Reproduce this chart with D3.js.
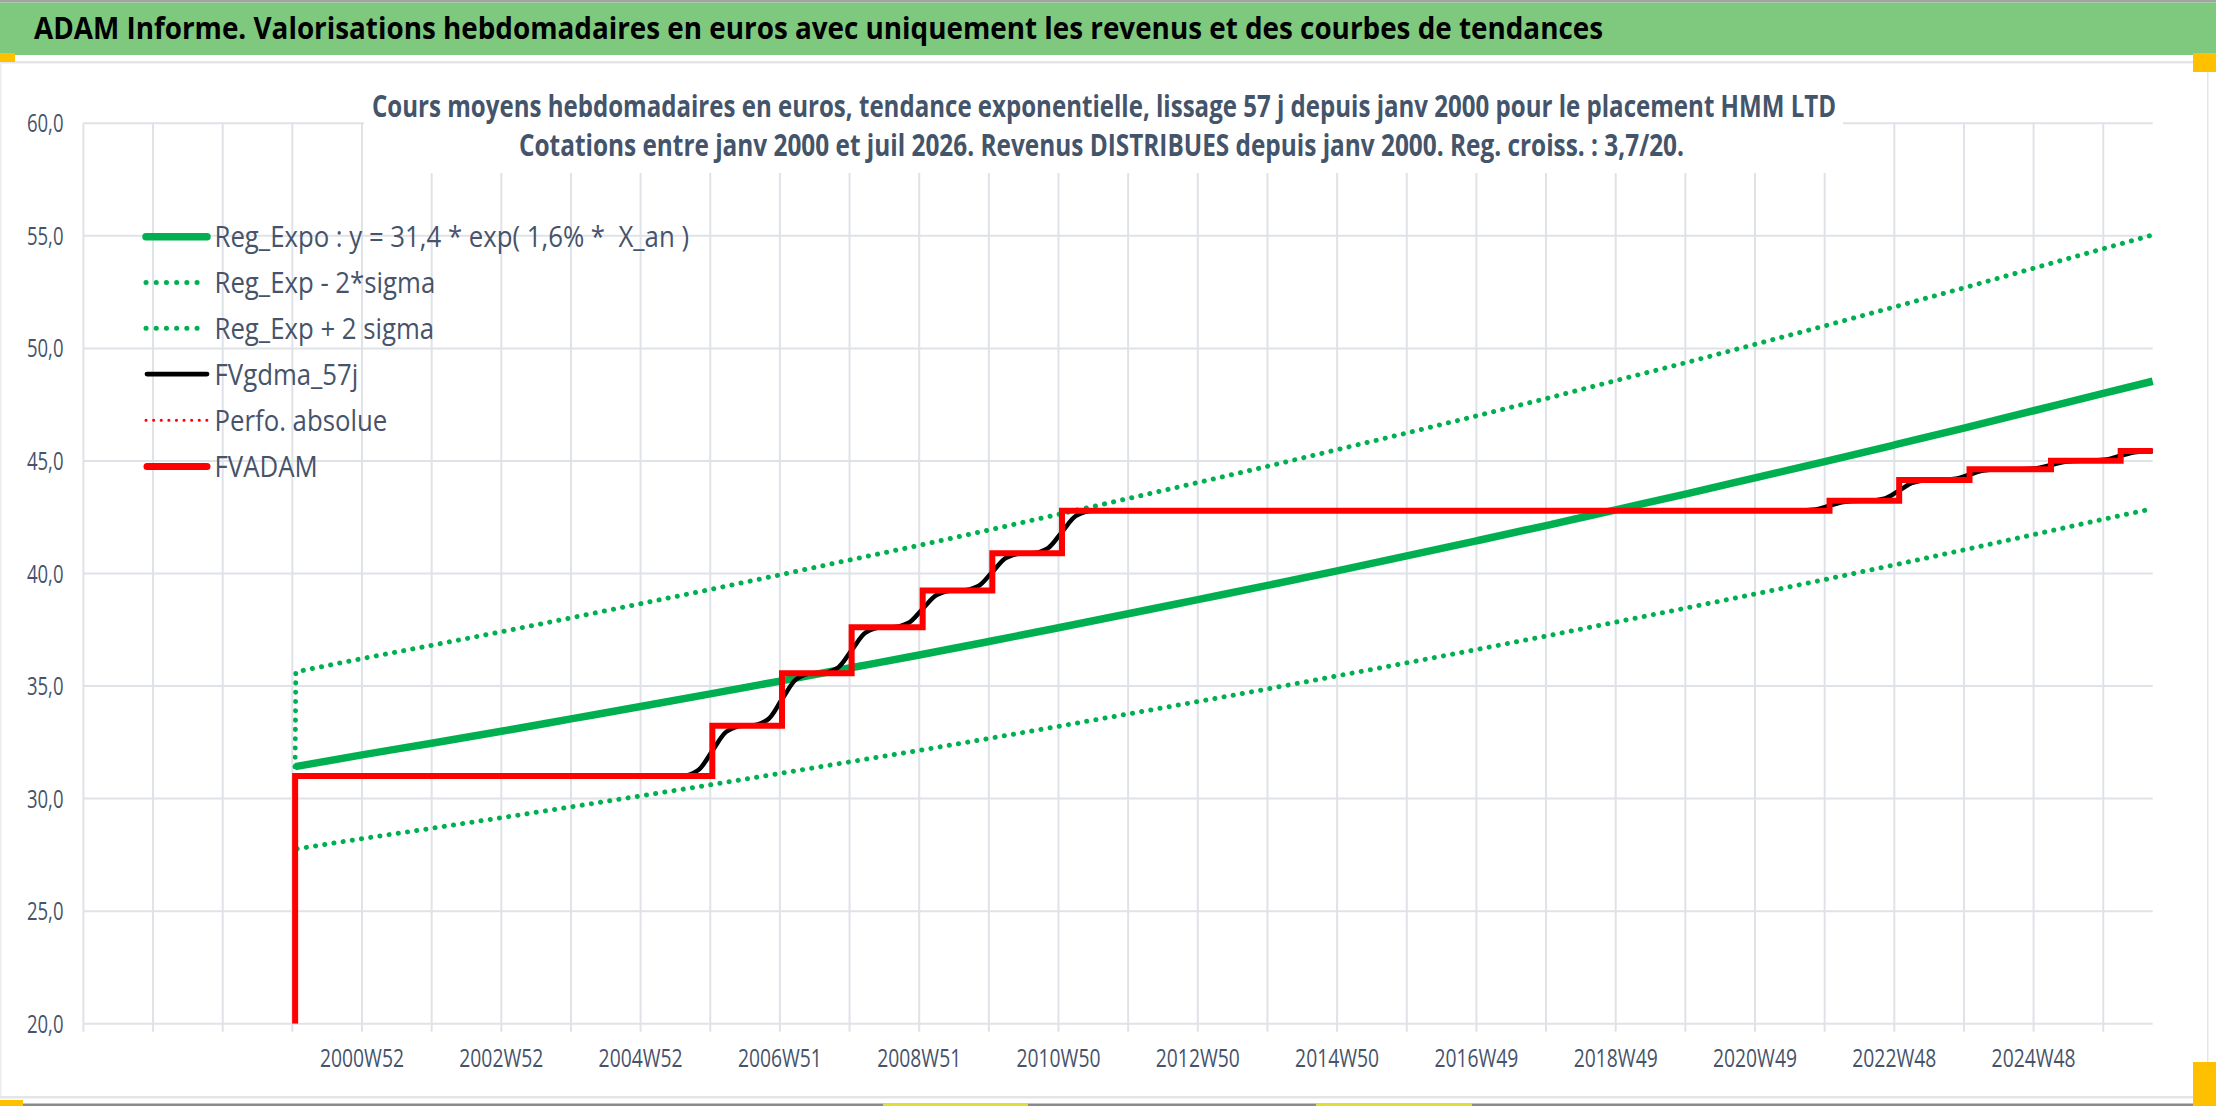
<!DOCTYPE html>
<html>
<head>
<meta charset="utf-8">
<script src="https://cdn.jsdelivr.net/npm/d3@7"></script>
<style>
html,body{margin:0;padding:0;background:#fff;overflow:hidden}
text{font-family:"Open Sans","Noto Sans","DejaVu Sans",sans-serif}
</style>
</head>
<body>
<svg id="chart" width="2216" height="1106"></svg>
<script>
// ---------------- DATA ----------------
const headerTitle = "ADAM Informe. Valorisations hebdomadaires en euros avec uniquement les revenus et des courbes de tendances";
const subtitleLines = [
  "Cours moyens hebdomadaires en euros, tendance exponentielle, lissage 57 j depuis janv 2000 pour le placement HMM LTD",
  "Cotations entre janv 2000 et juil 2026. Revenus DISTRIBUES depuis janv 2000. Reg. croiss. : 3,7/20."
];
const seriesNames = [
  "Reg_Expo : y = 31,4 * exp( 1,6% *  X_an )",
  "Reg_Exp - 2*sigma",
  "Reg_Exp + 2 sigma",
  "FVgdma_57j",
  "Perfo. absolue",
  "FVADAM"
];
const yTickValues = [20, 25, 30, 35, 40, 45, 50, 55, 60];
const xGridYears = [1997,1998,1999,2000,2001,2002,2003,2004,2005,2006,2007,2008,2009,2010,2011,2012,2013,2014,2015,2016,2017,2018,2019,2020,2021,2022,2023,2024,2025,2026];
const xTickYears = [2001, 2003, 2005, 2007, 2009, 2011, 2013, 2015, 2017, 2019, 2021, 2023, 2025];
const xTickLabels = ["2000W52","2002W52","2004W52","2006W51","2008W51","2010W50","2012W50","2014W50","2016W49","2018W49","2020W49","2022W48","2024W48"];

// exponential regression (yearly)
const regYears  = [2000.04,2001,2002,2003,2004,2005,2006,2007,2008,2009,2010,2011,2012,2013,2014,2015,2016,2017,2018,2019,2020,2021,2022,2023,2024,2025,2026,2026.71];
const regValues = [31.42,31.94,32.46,32.99,33.54,34.09,34.65,35.22,35.80,36.38,36.98,37.59,38.21,38.84,39.47,40.12,40.78,41.45,42.13,42.83,43.53,44.25,44.97,45.71,46.46,47.23,48.00,48.54];

// bands
const bandYears  = [2000.04,2000.05,2001,2002,2003,2004,2005,2006,2007,2008,2009,2010,2011,2012,2013,2014,2015,2016,2017,2018,2019,2020,2021,2022,2023,2024,2025,2026,2026.71];
const lowerValues = [31.42,27.76,28.22,28.68,29.15,29.63,30.12,30.61,31.12,31.63,32.14,32.67,33.21,33.76,34.31,34.87,35.45,36.03,36.62,37.22,37.84,38.46,39.09,39.73,40.38,41.05,41.73,42.41,42.88];
const upperValues = [31.42,35.63,36.22,36.81,37.41,38.03,38.66,39.29,39.94,40.60,41.25,41.93,42.63,43.33,44.04,44.76,45.50,46.24,47.00,47.77,48.57,49.36,50.18,51.00,51.84,52.69,53.56,54.43,55.04];

// FVADAM (step series)
const adamYears  = [2000.04,2000.04,2006.03,2007.03,2008.03,2009.05,2010.05,2011.05,2022.07,2023.07,2024.08,2025.25,2026.25,2026.71];
const adamValues = [20.00,31.00,33.24,35.57,37.61,39.24,40.90,42.79,43.23,44.15,44.63,45.01,45.44,45.44];

// FVgdma_57j (smoothed series)
const gdmaYears = [2000.04,
  2005.58,2005.83,2006.03,2006.23,2006.48,
  2006.58,2006.83,2007.03,2007.23,2007.48,
  2007.58,2007.83,2008.03,2008.23,2008.48,
  2008.60,2008.85,2009.05,2009.25,2009.50,
  2009.60,2009.85,2010.05,2010.25,2010.50,
  2010.60,2010.85,2011.05,2011.25,2011.50,
  2021.62,2021.87,2022.07,2022.27,2022.52,
  2022.62,2022.87,2023.07,2023.27,2023.52,
  2023.63,2023.88,2024.08,2024.28,2024.53,
  2024.80,2025.05,2025.25,2025.45,2025.70,
  2025.80,2026.05,2026.25,2026.45,2026.70,
  2026.71];
const gdmaValues = [31.00,
  31.00,31.27,32.12,32.97,33.24,
  33.24,33.52,34.41,35.29,35.57,
  35.57,35.81,36.59,37.37,37.61,
  37.61,37.81,38.43,39.04,39.24,
  39.24,39.44,40.07,40.70,40.90,
  40.90,41.13,41.85,42.56,42.79,
  42.79,42.84,43.01,43.18,43.23,
  43.23,43.34,43.69,44.04,44.15,
  44.15,44.21,44.39,44.57,44.63,
  44.63,44.68,44.82,44.96,45.01,
  45.01,45.06,45.23,45.39,45.44,
  45.44];

// ---------------- DRAW ----------------
const svg = d3.select("#chart");
const W = 2216, H = 1106;
const GREEN = "#00B050", RED = "#FF0000", TXT = "#46536a", GRID = "#dfe2e7";

const x = d3.scaleLinear().domain([1997, 2026.71]).range([83.4, 2152.7]);
const y = d3.scaleLinear().domain([20, 60]).range([1023.7, 123.3]);

function fitTo(sel, w){ sel.attr("textLength", w).attr("lengthAdjust", "spacingAndGlyphs"); }
function squeeze(sel, k){
  sel.each(function(){ const L = this.getComputedTextLength(); d3.select(this).attr("textLength", L*k).attr("lengthAdjust","spacingAndGlyphs"); });
}

// frame / header
svg.append("rect").attr("x",0).attr("y",0).attr("width",W).attr("height",H).attr("fill","#fff");
svg.append("rect").attr("x",0).attr("y",0).attr("width",W).attr("height",2.5).attr("fill","#a3a3a3");
svg.append("rect").attr("x",0).attr("y",2.5).attr("width",W).attr("height",52.5).attr("fill","#7fc97f");
svg.append("rect").attr("x",0).attr("y",61).attr("width",2208).attr("height",2.5).attr("fill","#e3e5e8");
svg.append("rect").attr("x",2207).attr("y",62).attr("width",1.5).attr("height",1036).attr("fill","#e6e6e6");
svg.append("rect").attr("x",0).attr("y",62).attr("width",1.5).attr("height",1036).attr("fill","#ececec");
svg.append("rect").attr("x",0).attr("y",1096).attr("width",2208).attr("height",2.5).attr("fill","#e3e5e8");
svg.append("rect").attr("x",0).attr("y",1103.5).attr("width",W).attr("height",2.5).attr("fill","#8a8a8a");
// selection handles
const handles = [[0,53,15,9],[2193,53,23,19],[2193,1062,23,44],[0,1100,23,6]];
handles.forEach(h => svg.append("rect").attr("x",h[0]).attr("y",h[1]).attr("width",h[2]).attr("height",h[3]).attr("fill","#FFC000"));
[[883,1028],[1316,1472]].forEach(h => svg.append("rect").attr("x",h[0]).attr("y",1103).attr("width",h[1]-h[0]).attr("height",3).attr("fill","#dede3a"));

const ht = svg.append("text").attr("x",34).attr("y",38.5).attr("font-size",30).attr("font-weight",700).attr("fill","#000").text(headerTitle);
fitTo(ht, 1569);

// grid
const grid = svg.append("g");
grid.selectAll("line.h").data(yTickValues).join("line").attr("class","h")
  .attr("x1", x(1997)).attr("x2", x(2026.71)).attr("y1", d=>y(d)).attr("y2", d=>y(d))
  .attr("stroke", GRID).attr("stroke-width", 2);
grid.selectAll("line.v").data(xGridYears).join("line").attr("class","v")
  .attr("x1", d=>x(d)).attr("x2", d=>x(d)).attr("y1", y(60)).attr("y2", y(20)+8)
  .attr("stroke", GRID).attr("stroke-width", 2);

// title box (covers grid)
svg.append("rect").attr("x",364).attr("y",82).attr("width",1479).attr("height",91).attr("fill","#fff");
const st1 = svg.append("text").attr("x",372).attr("y",117).attr("font-size",29.5).attr("font-weight",700).attr("fill","#44546A").text(subtitleLines[0]);
fitTo(st1, 1464);
const st2 = svg.append("text").attr("x",519).attr("y",156).attr("font-size",29.5).attr("font-weight",700).attr("fill","#44546A").text(subtitleLines[1]);
fitTo(st2, 1165);

// y axis labels
const yl = svg.append("g").selectAll("text").data(yTickValues).join("text")
  .attr("x", 63.5).attr("y", d=>y(d)+9).attr("text-anchor","end")
  .attr("font-size",25.5).attr("fill",TXT)
  .text(d => d3.format(".1f")(d).replace(".", ","));
const kY = 36.6 / yl.filter(d=>d===60).node().getComputedTextLength();
squeeze(yl, kY);

// x axis labels
const xl = svg.append("g").selectAll("text").data(xTickYears).join("text")
  .attr("x", d=>x(d)).attr("y", 1067).attr("text-anchor","middle")
  .attr("font-size",25.5).attr("fill",TXT)
  .text((d,i)=>xTickLabels[i]);
const kX = 84 / xl.node().getComputedTextLength();
squeeze(xl, kX);

// series
svg.append("clipPath").attr("id","plotclip").append("rect")
  .attr("x", x(1997)).attr("y", y(60)-10).attr("width", x(2026.71)-x(1997)+4).attr("height", y(20)-y(60)+10);
const plot = svg.append("g").attr("clip-path","url(#plotclip)");

const zip = (xs, vs) => xs.map((t,i)=>[t, vs[i]]);
const smooth = d3.line().x(d=>x(d[0])).y(d=>y(d[1])).curve(d3.curveMonotoneX);
const straight = d3.line().x(d=>x(d[0])).y(d=>y(d[1]));
const stepper = d3.line().x(d=>x(d[0])).y(d=>y(d[1])).curve(d3.curveStepAfter);

plot.append("path").attr("d", smooth(zip(regYears, regValues)))
  .attr("fill","none").attr("stroke",GREEN).attr("stroke-width",7.5).attr("stroke-linejoin","round");
plot.append("path").attr("d", straight(zip(bandYears, lowerValues)))
  .attr("fill","none").attr("stroke",GREEN).attr("stroke-width",5)
  .attr("stroke-linecap","round").attr("stroke-dasharray","0.1 9.2");
plot.append("path").attr("d", straight(zip(bandYears, upperValues)))
  .attr("fill","none").attr("stroke",GREEN).attr("stroke-width",5)
  .attr("stroke-linecap","round").attr("stroke-dasharray","0.1 9.2");
plot.append("path").attr("d", smooth(zip(gdmaYears, gdmaValues)))
  .attr("fill","none").attr("stroke","#000").attr("stroke-width",4.5).attr("stroke-linejoin","round");
plot.append("path").attr("d", stepper(zip(adamYears, adamValues)))
  .attr("fill","none").attr("stroke",RED).attr("stroke-width",6).attr("stroke-linejoin","miter");

// legend
const legRows = [236.7, 282.5, 328.3, 374.1, 420.3, 466.5];
const leg = svg.append("g");
const samples = [
  {w:7.5, c:GREEN, dash:null, cap:"round", x1:146, x2:207},
  {w:5, c:GREEN, dash:"0.1 10.1", cap:"round", x1:146, x2:207},
  {w:5, c:GREEN, dash:"0.1 10.1", cap:"round", x1:146, x2:207},
  {w:4.8, c:"#000", dash:null, cap:"round", x1:147, x2:207},
  {w:3, c:RED, dash:"0.1 7.5", cap:"round", x1:146, x2:207},
  {w:7, c:RED, dash:null, cap:"round", x1:147, x2:207}
];
samples.forEach((s,i)=>{
  const l = leg.append("line").attr("x1",s.x1).attr("x2",s.x2).attr("y1",legRows[i]).attr("y2",legRows[i])
    .attr("stroke",s.c).attr("stroke-width",s.w).attr("stroke-linecap",s.cap);
  if (s.dash) l.attr("stroke-dasharray", s.dash);
});
const lt = leg.selectAll("text").data(seriesNames).join("text")
  .attr("x",214.5).attr("y",(d,i)=>legRows[i]+10.5).attr("font-size",30).attr("fill",TXT)
  .attr("xml:space","preserve").style("white-space","pre")
  .text(d=>d);
const kL = 474.5 / lt.node().getComputedTextLength();
squeeze(lt, kL);
</script>
</body>
</html>
